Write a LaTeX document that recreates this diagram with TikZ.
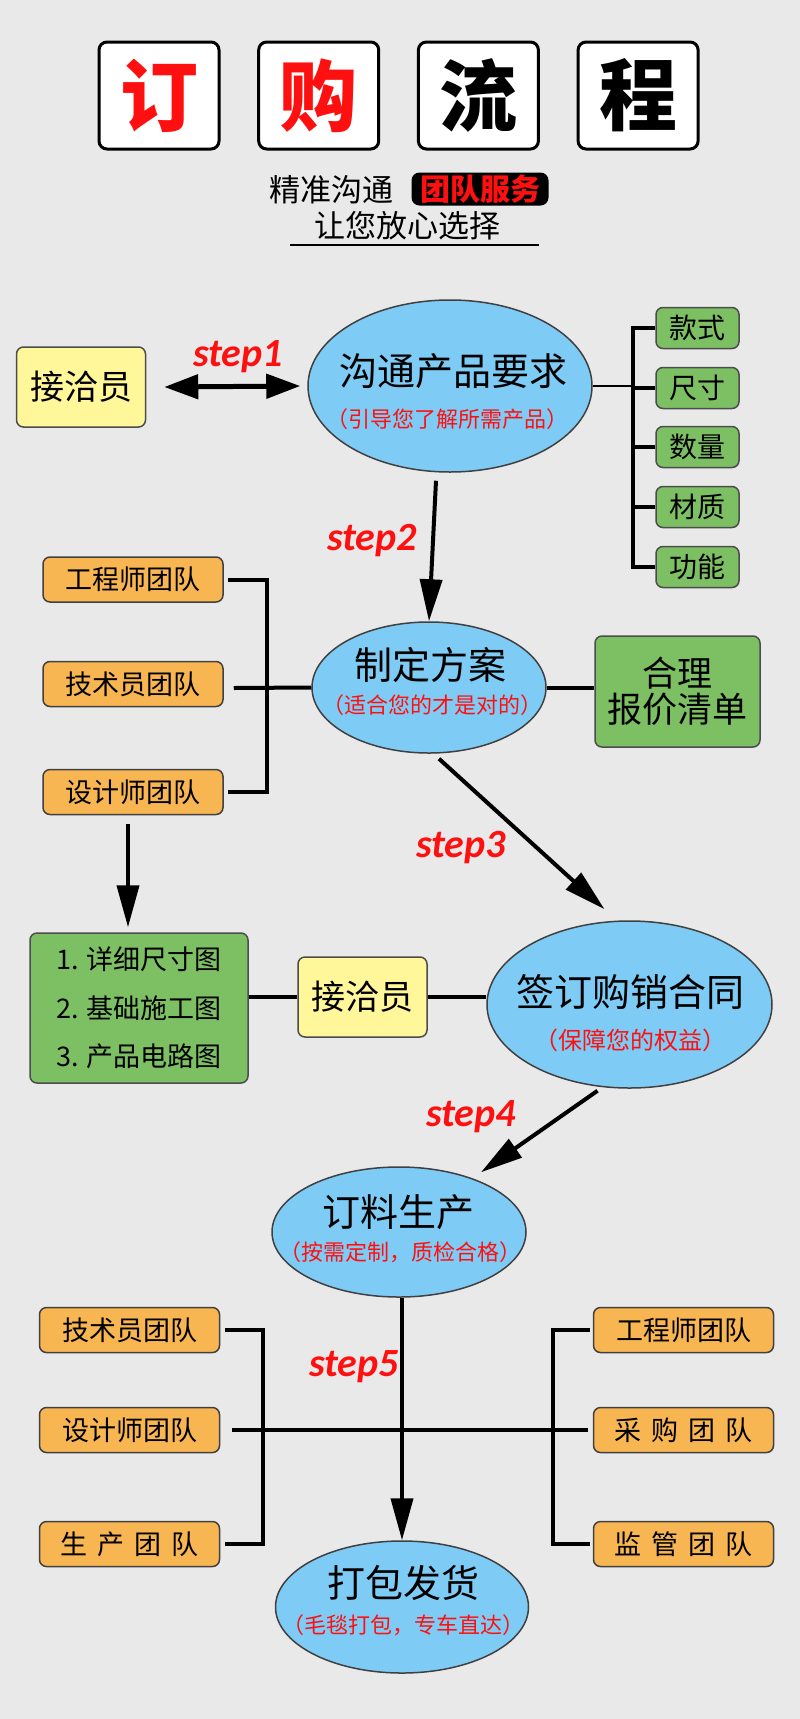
\documentclass[tikz,border=0pt]{standalone}
\usepackage{fontspec}
\setmainfont{Noto Sans CJK SC}
\newfontfamily\stepfont{Carlito}
\usetikzlibrary{shapes.geometric,arrows.meta}
\definecolor{bg}{RGB}{233,233,233}
\definecolor{sky}{RGB}{126,204,245}
\definecolor{leaf}{RGB}{125,192,100}
\definecolor{cream}{RGB}{255,247,153}
\definecolor{amber}{RGB}{248,182,83}
\definecolor{hot}{RGB}{255,16,16}
\newcommand{\fsz}[1]{\fontsize{#1}{#1}\selectfont}

\begin{document}
\begin{tikzpicture}[x=1pt,y=-1pt,
  oval/.style={ellipse,draw=black!75,line width=1.5pt,fill=sky,inner sep=0pt},
  maintxt/.style={font=\fsz{38}},
  subtxt/.style={font=\fsz{22},text=hot},
  tbox/.style={draw,line width=3pt,rounded corners=8pt,fill=white,minimum width=120pt,minimum height=107pt,inner sep=0pt,font=\fsz{78}\bfseries},
  gbox/.style={draw=black!70,line width=1.5pt,rounded corners=7pt,fill=leaf,inner sep=0pt},
  ybox/.style={draw=black!70,line width=1.5pt,rounded corners=7pt,fill=cream,minimum width=129pt,minimum height=80pt,inner sep=0pt,font=\fsz{34}},
  obox/.style={draw=black!75,line width=1.5pt,rounded corners=7pt,fill=amber,minimum width=180pt,minimum height=45pt,inner sep=0pt,font=\fsz{27}},
  conn/.style={line width=4pt},
  arr/.style={line width=4pt,-{Triangle[length=42pt,width=22pt]}},
  steplbl/.style={font=\stepfont\bfseries\itshape\fsz{40},text=hot}]
  \fill[bg] (0,0) rectangle (800,1719);
  \useasboundingbox (0,0) rectangle (800,1719);

  \foreach \ch/\col [count=\i from 0] in {订/hot,购/hot,流/black,程/black}
    \node[tbox,text=\col] (t\i) at (159+159.7*\i,95.5) {\ch};
  \node[font=\fsz{31}] (slogA) at (331,190) {精准沟通};
  \node[fill=black,rounded corners=8pt,minimum width=137pt,minimum height=33pt,inner sep=0pt,text=hot,font=\fsz{30}\bfseries] (slogB) at (480,189) {团队服务};
  \node[font=\fsz{31}] (slogC) at (407,226) {让您放心选择};
  \draw[line width=2pt] (290,245) -- (539,245);

  \node[ybox] (recvA) at (81,387) {接洽员};
  \node[oval,minimum width=284pt,minimum height=172pt] (need) at (450,386) {};
  \node[maintxt] (needA) at (453,371) {沟通产品要求};
  \node[subtxt] (needB) at (447,419) {（引导您了解所需产品）};
  \node[steplbl] (s1) at (238,357) {step1};
  \foreach \w/\y [count=\i] in {款式/328,尺寸/388,数量/447,材质/507,功能/567}
    \node[gbox,minimum width=83pt,minimum height=41pt,font=\fsz{28}] (opt\i) at (697.5,\y) {\w};
  \coordinate (spA) at (633,388);

  \node[obox] (engA) at (133,579.5) {工程师团队};
  \node[obox] (tecA) at (133,684) {技术员团队};
  \node[obox] (desA) at (133,792) {设计师团队};
  \node[oval,minimum width=234pt,minimum height=131pt] (plan) at (429,687.5) {};
  \node[maintxt] (planA) at (430,665) {制定方案};
  \node[subtxt] (planB) at (432,705) {（适合您的才是对的）};
  \node[gbox,minimum width=165pt,minimum height=111pt,align=center,font=\fontsize{35}{36}\selectfont] (quote) at (677.5,691.5) {合理\\报价清单};
  \node[steplbl] (s2) at (372,541) {step2};
  \coordinate (spB) at (267,688);

  \node[gbox,minimum width=218pt,minimum height=150pt,align=left,font=\fontsize{27}{48.5}\selectfont] (docs) at (139,1008) {1. 详细尺寸图\\2. 基础施工图\\3. 产品电路图};
  \node[ybox] (recvB) at (362.5,997) {接洽员};
  \node[oval,minimum width=285pt,minimum height=167pt] (contract) at (629.5,1004.5) {};
  \node[maintxt] (contractA) at (630,992) {签订购销合同};
  \node[subtxt,font=\fsz{24}] (contractB) at (630,1040) {（保障您的权益）};
  \node[steplbl] (s3) at (461,848) {step3};

  \node[oval,minimum width=254pt,minimum height=130pt] (prod) at (399,1232) {};
  \node[maintxt] (prodA) at (398,1212) {订料生产};
  \node[subtxt] (prodB) at (400,1252) {（按需定制，质检合格）};
  \node[steplbl] (s4) at (471,1117) {step4};

  \node[obox] (tecB) at (129.5,1330) {技术员团队};
  \node[obox] (desB) at (129.5,1430) {设计师团队};
  \node[obox] (mfgB) at (129.5,1544) {生\hspace{10pt}产\hspace{10pt}团\hspace{10pt}队};
  \node[obox] (engB) at (683.5,1330) {工程师团队};
  \node[obox] (buyB) at (683.5,1430) {采\hspace{10pt}购\hspace{10pt}团\hspace{10pt}队};
  \node[obox] (supB) at (683.5,1544) {监\hspace{10pt}管\hspace{10pt}团\hspace{10pt}队};
  \node[oval,minimum width=253pt,minimum height=132pt] (ship) at (402,1607) {};
  \node[maintxt] (shipA) at (403,1583) {打包发货};
  \node[subtxt] (shipB) at (403,1625) {（毛毯打包，专车直达）};
  \node[steplbl] (s5) at (354,1367) {step5};
  \coordinate (spC) at (263,1430);
  \coordinate (spD) at (553,1430);

  \draw[line width=5pt,{Triangle[length=34pt,width=24pt]}-{Triangle[length=34pt,width=24pt]}] ([xshift=18pt]recvA.east) -- ([xshift=-7pt]need.west);
  \draw[line width=2pt] (need.east) -- (need.east -| spA);
  \draw[conn] (opt1.west) -| (spA) |- (opt5.west);
  \foreach \i in {2,3,4}
    \draw[conn] (opt\i.west) -- (opt\i.west -| spA);
  \draw[arr] ([shift={(-14,8)}]need.south) -- (plan.north);

  \draw[conn] ([xshift=4pt]engA.east) -| (spB) |- ([xshift=4pt]desA.east);
  \draw[conn] ([shift={(10,4)}]tecA.east) -- (plan.west);
  \draw[conn] (plan.east) -- (plan.east -| quote.west);
  \draw[arr] ([shift={(10,5)}]plan.south) -- ([shift={(-25,-11)}]contract.north);
  \draw[arr] ([shift={(-5,9)}]desA.south) -- ([shift={(-11,-5)}]docs.north);

  \draw[conn] (docs.east |- recvB.west) -- (recvB.west);
  \draw[conn] (recvB.east) -- (recvB.east -| contract.west);
  \draw[arr] ([shift={(-32,2)}]contract.south) -- ([shift={(82,6)}]prod.north);
  \draw[arr] (prod.south -| ship.north) -- (ship.north);

  \draw[conn] ([xshift=5pt]tecB.east) -| (spC) |- ([xshift=5pt]mfgB.east);
  \draw[conn] ([xshift=-3pt]engB.west) -| (spD) |- ([xshift=-3pt]supB.west);
  \draw[conn] ([xshift=12pt]desB.east) -- ([xshift=-5pt]buyB.west);
\end{tikzpicture}
\end{document}
